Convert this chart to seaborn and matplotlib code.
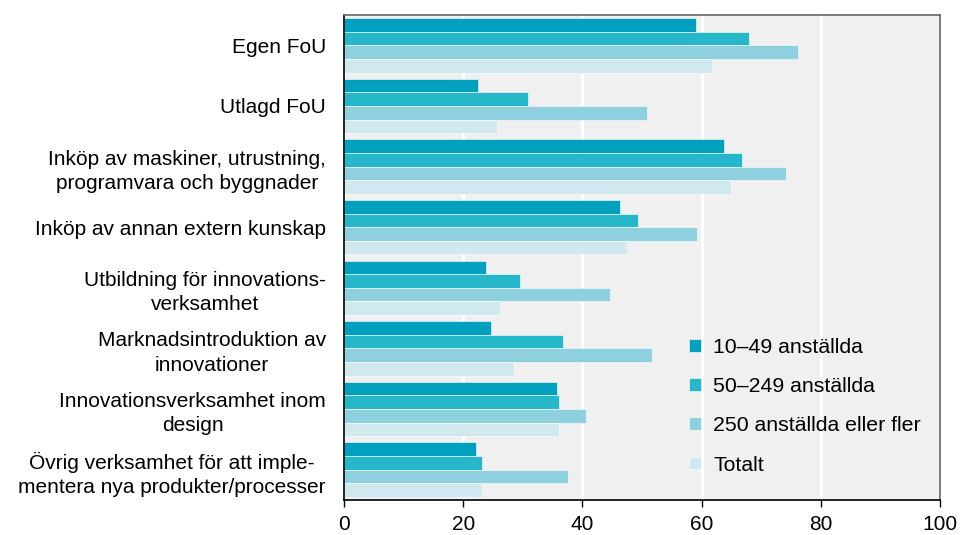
import matplotlib
matplotlib.use("Agg")
import matplotlib.pyplot as plt
import seaborn as sns
import pandas as pd

categories = [
    "Egen FoU",
    "Utlagd FoU",
    "Inköp av maskiner, utrustning,\nprogramvara och byggnader",
    "Inköp av annan extern kunskap",
    "Utbildning för innovations-\nverksamhet",
    "Marknadsintroduktion av\ninnovationer",
    "Innovationsverksamhet inom\ndesign",
    "Övrig verksamhet för att imple-\nmentera nya produkter/processer",
]
series_names = ["10–49 anställda", "50–249 anställda", "250 anställda eller fler", "Totalt"]
small = [59.1, 22.5, 63.8, 46.3, 23.8, 24.7, 35.8, 22.2]
medium = [68.0, 30.9, 66.7, 49.3, 29.6, 36.8, 36.1, 23.2]
large = [76.1, 50.9, 74.1, 59.2, 44.7, 51.7, 40.6, 37.6]
total = [61.8, 25.7, 65.0, 47.5, 26.2, 28.5, 36.1, 23.2]
colors = ["#00A0BE", "#26B7CB", "#8FD0DF", "#D0E9EE"]

rows = []
for name, vals in zip(series_names, [small, medium, large, total]):
    for c, v in zip(categories, vals):
        rows.append({"kategori": c, "serie": name, "varde": v})
df = pd.DataFrame(rows)

sns.set_theme(style="white")
plt.rcParams["font.family"] = ["Liberation Sans", "DejaVu Sans"]
plt.rcParams["text.color"] = "black"
plt.rcParams["xtick.color"] = "black"
plt.rcParams["ytick.color"] = "black"

fig = plt.figure(figsize=(9.6, 5.35), dpi=100)
ax = fig.add_axes([344 / 960, 1 - 500 / 535, (940 - 344) / 960, (500 - 15) / 535])
sns.barplot(data=df, x="varde", y="kategori", hue="serie", palette=colors,
            orient="h", width=0.9, saturation=1, ax=ax,
            edgecolor="white", linewidth=0.4)
ax.set_facecolor("#F0F0F0")
ax.set_xlim(0, 100)
ax.set_xticks([0, 20, 40, 60, 80, 100])
ax.grid(axis="x", color="white", linewidth=2.2)
ax.set_axisbelow(True)
ax.set_xlabel("")
ax.set_ylabel("")
ax.tick_params(axis="x", labelsize=15, length=5, width=1, color="black",
               labelcolor="black", bottom=True, pad=6)
ax.tick_params(axis="y", labelsize=15, length=0, pad=13, labelcolor="black")
for lab in ax.get_yticklabels():
    lab.set_multialignment("center")
    lab.set_linespacing(1.35)
for s in ["left", "bottom"]:
    ax.spines[s].set_color("black")
    ax.spines[s].set_linewidth(1.2)
for s in ["top", "right"]:
    ax.spines[s].set_color("#666666")
    ax.spines[s].set_linewidth(1.2)

leg = ax.legend(loc="lower right", bbox_to_anchor=(1.0, 0.013), frameon=False,
                fontsize=15.3, handlelength=0.55, handleheight=0.55,
                labelspacing=0.95, handletextpad=0.6)
for t in leg.get_texts():
    t.set_color("black")
fig.savefig("out.png", dpi=100)
